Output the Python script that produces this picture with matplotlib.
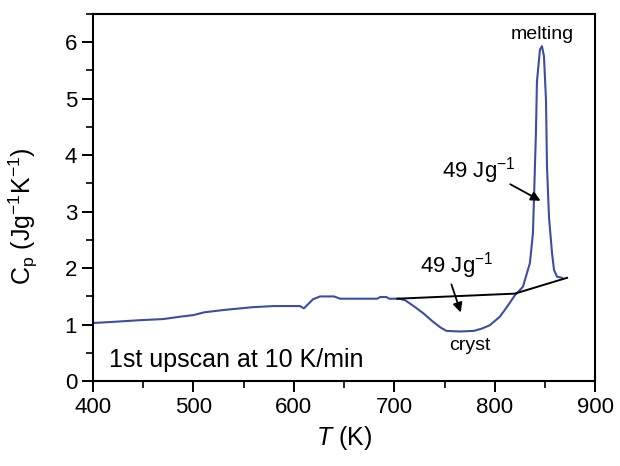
import matplotlib
matplotlib.use("Agg")
import matplotlib.pyplot as plt
from matplotlib.ticker import MultipleLocator

plt.rcParams["font.family"] = ["Liberation Sans", "DejaVu Sans"]
plt.rcParams["mathtext.fontset"] = "custom"
plt.rcParams["mathtext.rm"] = "Liberation Sans"
plt.rcParams["mathtext.it"] = "Liberation Sans:italic"

# heat capacity trace, first upscan at 10 K/min
temp = [400, 420, 447, 470, 486, 500, 511, 530, 559, 580, 606, 610, 614, 619,
        626, 640, 646, 683, 686, 692, 695, 705, 711, 720, 729, 738, 746, 752,
        765, 779, 787, 795, 805, 812, 820, 828, 835, 838, 839, 841, 842, 845,
        847, 849, 851, 852, 854, 857, 859, 862, 867]
cp = [1.03, 1.05, 1.08, 1.10, 1.14, 1.17, 1.22, 1.26, 1.31, 1.33, 1.33, 1.29,
      1.36, 1.45, 1.50, 1.50, 1.46, 1.46, 1.49, 1.49, 1.46, 1.46, 1.43, 1.32,
      1.20, 1.06, 0.95, 0.89, 0.88, 0.89, 0.93, 0.99, 1.14, 1.31, 1.52, 1.67,
      2.09, 2.62, 3.20, 4.40, 5.30, 5.87, 5.93, 5.75, 4.98, 3.80, 2.90, 2.27,
      1.97, 1.85, 1.83]

# baseline drawn under the crystallization and melting peaks
base_t = [703, 820, 872]
base_cp = [1.46, 1.55, 1.83]

enthalpy_label = "49 Jg$^{-1}$"

fig = plt.figure(figsize=(6.2, 4.66), dpi=100)
ax = fig.add_axes([0.15, 0.182, 0.81, 0.788])

ax.plot(temp, cp, color="#3b4ea3", lw=1.5)
ax.plot(base_t, base_cp, color="black", lw=1.4)

ax.set_xlim(400, 900)
ax.set_ylim(0, 6.5)
ax.xaxis.set_major_locator(MultipleLocator(100))
ax.xaxis.set_minor_locator(MultipleLocator(50))
ax.yaxis.set_major_locator(MultipleLocator(1))
ax.yaxis.set_minor_locator(MultipleLocator(0.5))
ax.tick_params(which="major", direction="out", length=8, width=1.4,
               labelsize=16, top=False, right=False)
ax.tick_params(which="minor", direction="out", length=5, width=1.2,
               top=False, right=False)
for s in ax.spines.values():
    s.set_linewidth(1.5)

ax.set_xlabel("$T$ (K)", fontsize=18, labelpad=4)
ax.set_ylabel("C$_\\mathrm{p}$ (Jg$^{-1}$K$^{-1}$)", fontsize=18)
ax.yaxis.set_label_coords(-0.106, 0.45)

ax.text(847, 6.13, "melting", fontsize=14, ha="center", va="center")
ax.text(775, 0.64, "cryst", fontsize=14, ha="center", va="center")
ax.text(416, 0.38, "1st upscan at 10 K/min", fontsize=18, ha="left", va="center")

ax.text(747, 3.72, enthalpy_label, fontsize=16, ha="left", va="center")
ax.annotate("", xy=(848, 3.17), xytext=(813, 3.51),
            arrowprops=dict(arrowstyle="-|>", color="black", lw=1.3,
                            mutation_scale=14))
ax.text(726, 2.05, enthalpy_label, fontsize=16, ha="left", va="center")
ax.annotate("", xy=(767, 1.17), xytext=(756, 1.76),
            arrowprops=dict(arrowstyle="-|>", color="black", lw=1.3,
                            mutation_scale=14))

fig.savefig("out.png", dpi=100)
